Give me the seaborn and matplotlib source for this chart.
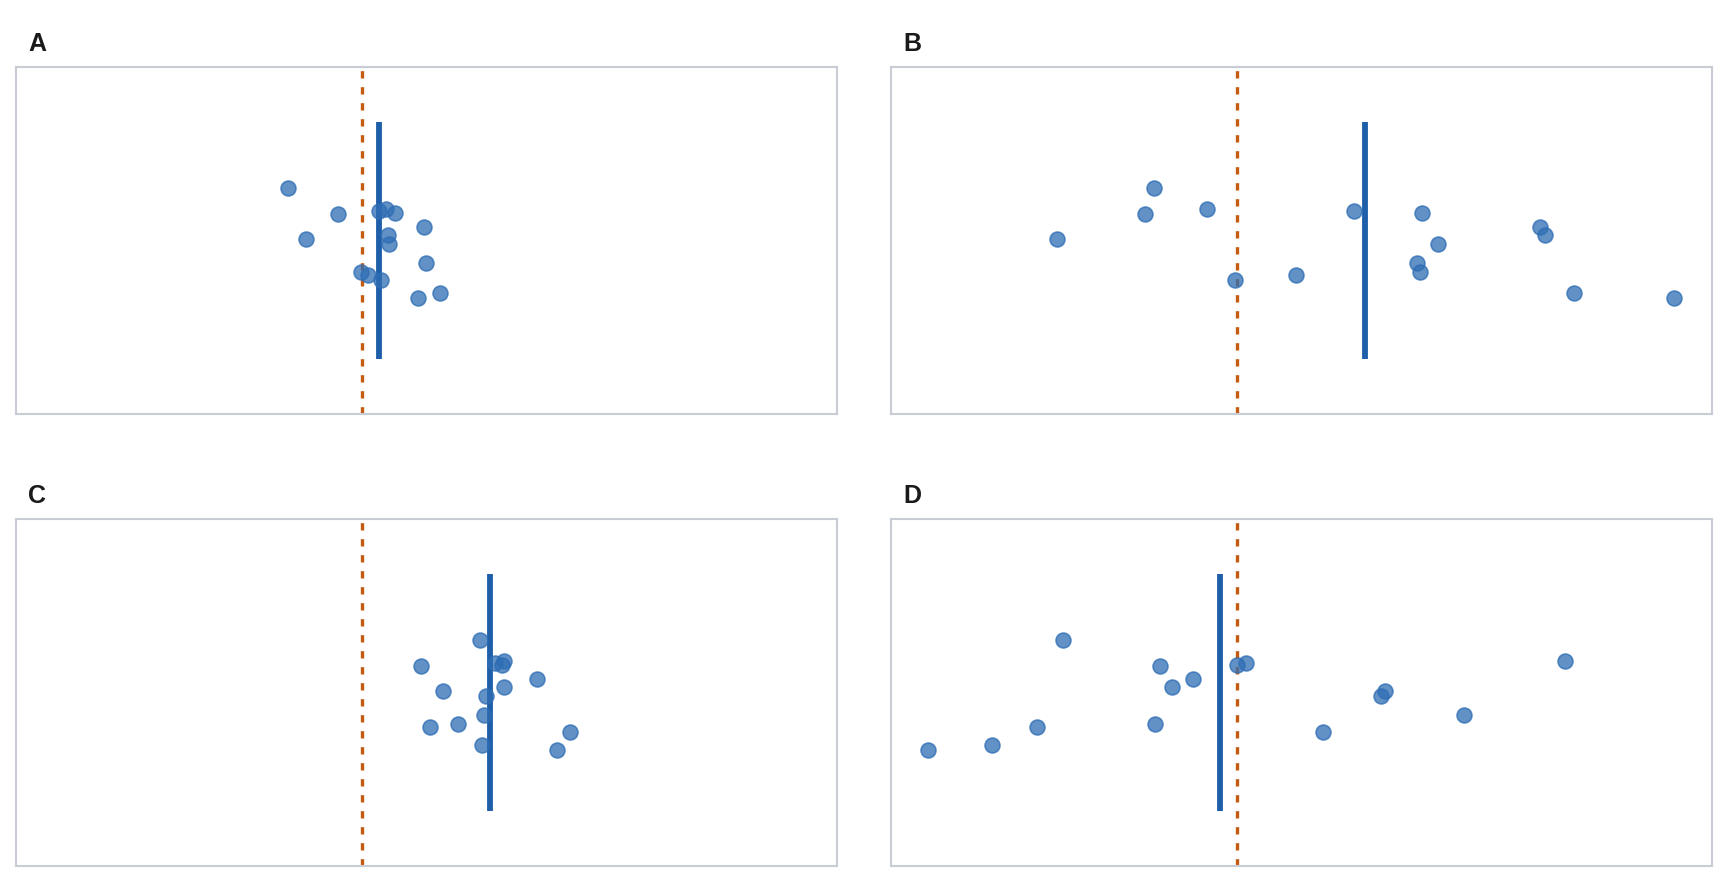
import numpy as np
import pandas as pd
import matplotlib
matplotlib.use('Agg')
import matplotlib.pyplot as plt
import seaborn as sns

# Four simulated samples (15 observations each), null value at 0
panels = ['A', 'B', 'C', 'D']
null_value = 0.0

# Vertical jitter for each observation (same for every panel)
jitter = [0.30, 0.15, 0.01, 0.17, 0.18, 0.16, 0.08, 0.03, -0.02,
          -0.18, -0.20, -0.23, -0.13, -0.33, -0.30]

vals_a = [-1.00, -0.32, -0.75, 0.22, 0.32, 0.44, 0.82, 0.34, 0.36,
          -0.02, 0.07, 0.25, 0.85, 0.75, 1.04]
vals_b = [-1.11, -1.23, -2.41, 1.56, -0.40, 2.47, 4.05, 4.12, 2.68,
          2.45, 0.79, -0.03, 2.41, 5.85, 4.50]
vals_c = [1.58, 0.79, 1.08, 1.77, 1.90, 1.87, 2.34, 1.89, 1.65,
          1.28, 0.90, 2.78, 1.63, 2.61, 1.60]
vals_d = [-2.33, -1.03, 1.97, 0.11, 4.39, 0.00, -0.59, -0.88, 1.92,
          -1.10, -2.68, 1.14, 3.04, -4.14, -3.28]

df = pd.DataFrame({
    'panel': np.repeat(panels, len(jitter)),
    'value': vals_a + vals_b + vals_c + vals_d,
    'jitter': jitter * 4,
})

sns.set_style('white')
plt.rcParams['font.family'] = ['Liberation Sans', 'DejaVu Sans']

fig, axs = plt.subplots(2, 2, figsize=(17.28, 8.83), dpi=100, sharex=True)
fig.subplots_adjust(left=0.0091, right=0.9906, top=0.9241, bottom=0.0193,
                    wspace=0.0658, hspace=0.3026)

point_col = '#2e6db4'
mean_col = '#1f5ea8'
null_col = '#c55a11'

for ax, p in zip(axs.flat, panels):
    sub = df[df['panel'] == p]
    ax.axvline(null_value, color=null_col, lw=2.4, linestyle=(0, (2.2, 2.6)), zorder=1)
    m = sub['value'].mean()
    ax.plot([m, m], [-0.685, 0.685], color=mean_col, lw=4.2,
            solid_capstyle='butt', zorder=2)
    sns.scatterplot(data=sub, x='value', y='jitter', ax=ax, s=115,
                    color=point_col, edgecolor=point_col, linewidth=1.2,
                    alpha=0.75, zorder=3)
    ax.set_ylim(-1, 1)
    ax.set_xlabel('')
    ax.set_ylabel('')
    ax.set_xticks([])
    ax.set_yticks([])
    for s in ax.spines.values():
        s.set_visible(True)
        s.set_color('#c8cdd5')
        s.set_linewidth(1.5)
    ax.text(0.0155, 1.045, p, transform=ax.transAxes, fontsize=18,
            fontweight='bold', color='#1a1a1a', ha='left', va='baseline')

plt.savefig('out.png', dpi=100)
